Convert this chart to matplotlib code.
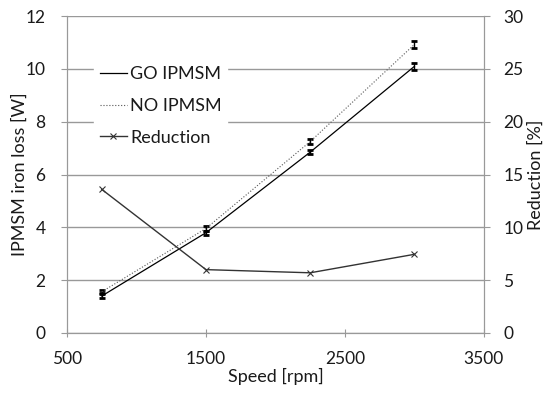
import matplotlib
matplotlib.use("Agg")
import matplotlib.pyplot as plt

speed = [750, 1500, 2250, 3000]
go_loss = [1.40, 3.80, 6.85, 10.10]
go_err = [0.08, 0.08, 0.08, 0.12]
no_loss = [1.56, 3.96, 7.25, 10.93]
no_err = [0.06, 0.08, 0.10, 0.12]
reduction = [13.6, 6.0, 5.7, 7.45]

plt.rcParams['font.family'] = ['Lato', 'DejaVu Sans']
txt = '#1a1a1a'
gray = '#999999'

fig = plt.figure(figsize=(5.48, 3.95), dpi=100)
ax = fig.add_axes([0.1223, 0.157, 0.7607, 0.802])
ax2 = ax.twinx()

ax.errorbar(speed, go_loss, yerr=go_err, color='black', lw=0.9, capsize=2.5,
            capthick=2, elinewidth=1, label='GO IPMSM', zorder=3)
ax.errorbar(speed, no_loss, yerr=no_err, color='#555555', lw=0.8, ls=':', capsize=2.5,
            capthick=2, elinewidth=1, ecolor='black', label='NO IPMSM', zorder=3)
l3, = ax2.plot(speed, reduction, color='#333333', lw=1.0, marker='x', ms=5,
               mew=0.8, label='Reduction')

ax.set_xlim(500, 3500)
ax.set_ylim(0, 12)
ax2.set_ylim(0, 30)
ax.set_xticks([500, 1500, 2500, 3500])
ax.set_yticks(range(0, 13, 2))
ax2.set_yticks(range(0, 31, 5))
ax.grid(axis='y', color=gray, lw=1)
ax.set_axisbelow(True)

for a in (ax, ax2):
    for s in a.spines.values():
        s.set_color(gray)
    a.spines['top'].set_visible(False)
    a.tick_params(color=gray, labelcolor=txt, labelsize=12.5, length=4.5)
ax.tick_params(axis='y', pad=11)
ax2.tick_params(axis='y', pad=9.5)
ax.tick_params(axis='x', direction='inout', length=6, pad=10)

ax.set_xlabel('Speed [rpm]', fontsize=13, color=txt, labelpad=1)
ax.set_ylabel('IPMSM iron loss [W]', fontsize=13, color=txt, labelpad=-2)
ax2.set_ylabel('Reduction [%]', fontsize=13, color=txt, labelpad=3)

h1, lab1 = ax.get_legend_handles_labels()
handles = [h1[0][0], h1[1][0], l3]
labels = ['GO IPMSM', 'NO IPMSM', 'Reduction']
leg = ax2.legend(handles, labels, loc='upper left', bbox_to_anchor=(0.065, 0.86),
                 frameon=True, fontsize=13, handlelength=1.5, handletextpad=0.2,
                 labelspacing=0.88, borderpad=0.3, borderaxespad=0)
leg.get_frame().set_edgecolor('white')
leg.get_frame().set_facecolor('white')
leg.get_frame().set_alpha(1)
for t in leg.get_texts():
    t.set_color(txt)

fig.savefig('out.png', dpi=100)
